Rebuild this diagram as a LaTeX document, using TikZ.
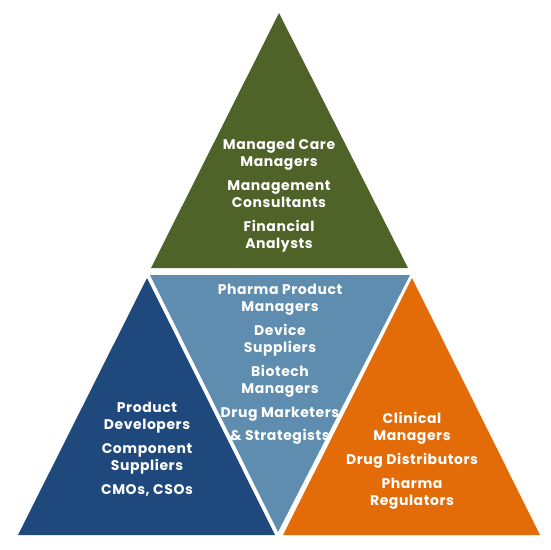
\documentclass[tikz,border=0pt]{standalone}
\usepackage{fontspec}
\setmainfont{Poppins}[LetterSpace=4]
\definecolor{mOlive}{HTML}{4F6228}
\definecolor{mNavy}{HTML}{1F497D}
\definecolor{mSteel}{HTML}{5F8DAF}
\definecolor{mOrange}{HTML}{E36C09}
\tikzset{
  grouptext/.style={text=white, font=\bfseries\fontsize{14}{17}\selectfont,
    align=center, inner sep=0pt}
}
\begin{document}
\begin{tikzpicture}[x=1pt, y=-1pt]
    \useasboundingbox (0,0) rectangle (550,550);
    % four triangles of the pyramid
    \fill[mOlive] (279,13) -- (151,268) -- (408,268) -- cycle;
    \fill[mSteel] (150,275) -- (410,275) -- (278,532) -- cycle;
    \fill[mNavy] (147,278) -- (18,535) -- (275,535) -- cycle;
    \fill[mOrange] (412,278) -- (283,535) -- (540,535) -- cycle;
    % texts
    \node[grouptext] (topgroup) at (279,196)
      {Managed Care\\Managers\\[7pt]Management\\Consultants\\[7pt]Financial\\Analysts};
    \node[grouptext] (midgroup) at (280,364)
      {Pharma Product\\Managers\\[7pt]Device\\Suppliers\\[7pt]Biotech\\Managers\\[7pt]Drug Marketers\\[6pt]\& Strategists};
    \node[grouptext] (leftgroup) at (147,449)
      {Product\\Developers\\[7pt]Component\\Suppliers\\[7pt]CMOs, CSOs};
    \node[grouptext] (rightgroup) at (412,461)
      {Clinical\\Managers\\[7pt]Drug Distributors\\[7pt]Pharma\\Regulators};
\end{tikzpicture}
\end{document}
